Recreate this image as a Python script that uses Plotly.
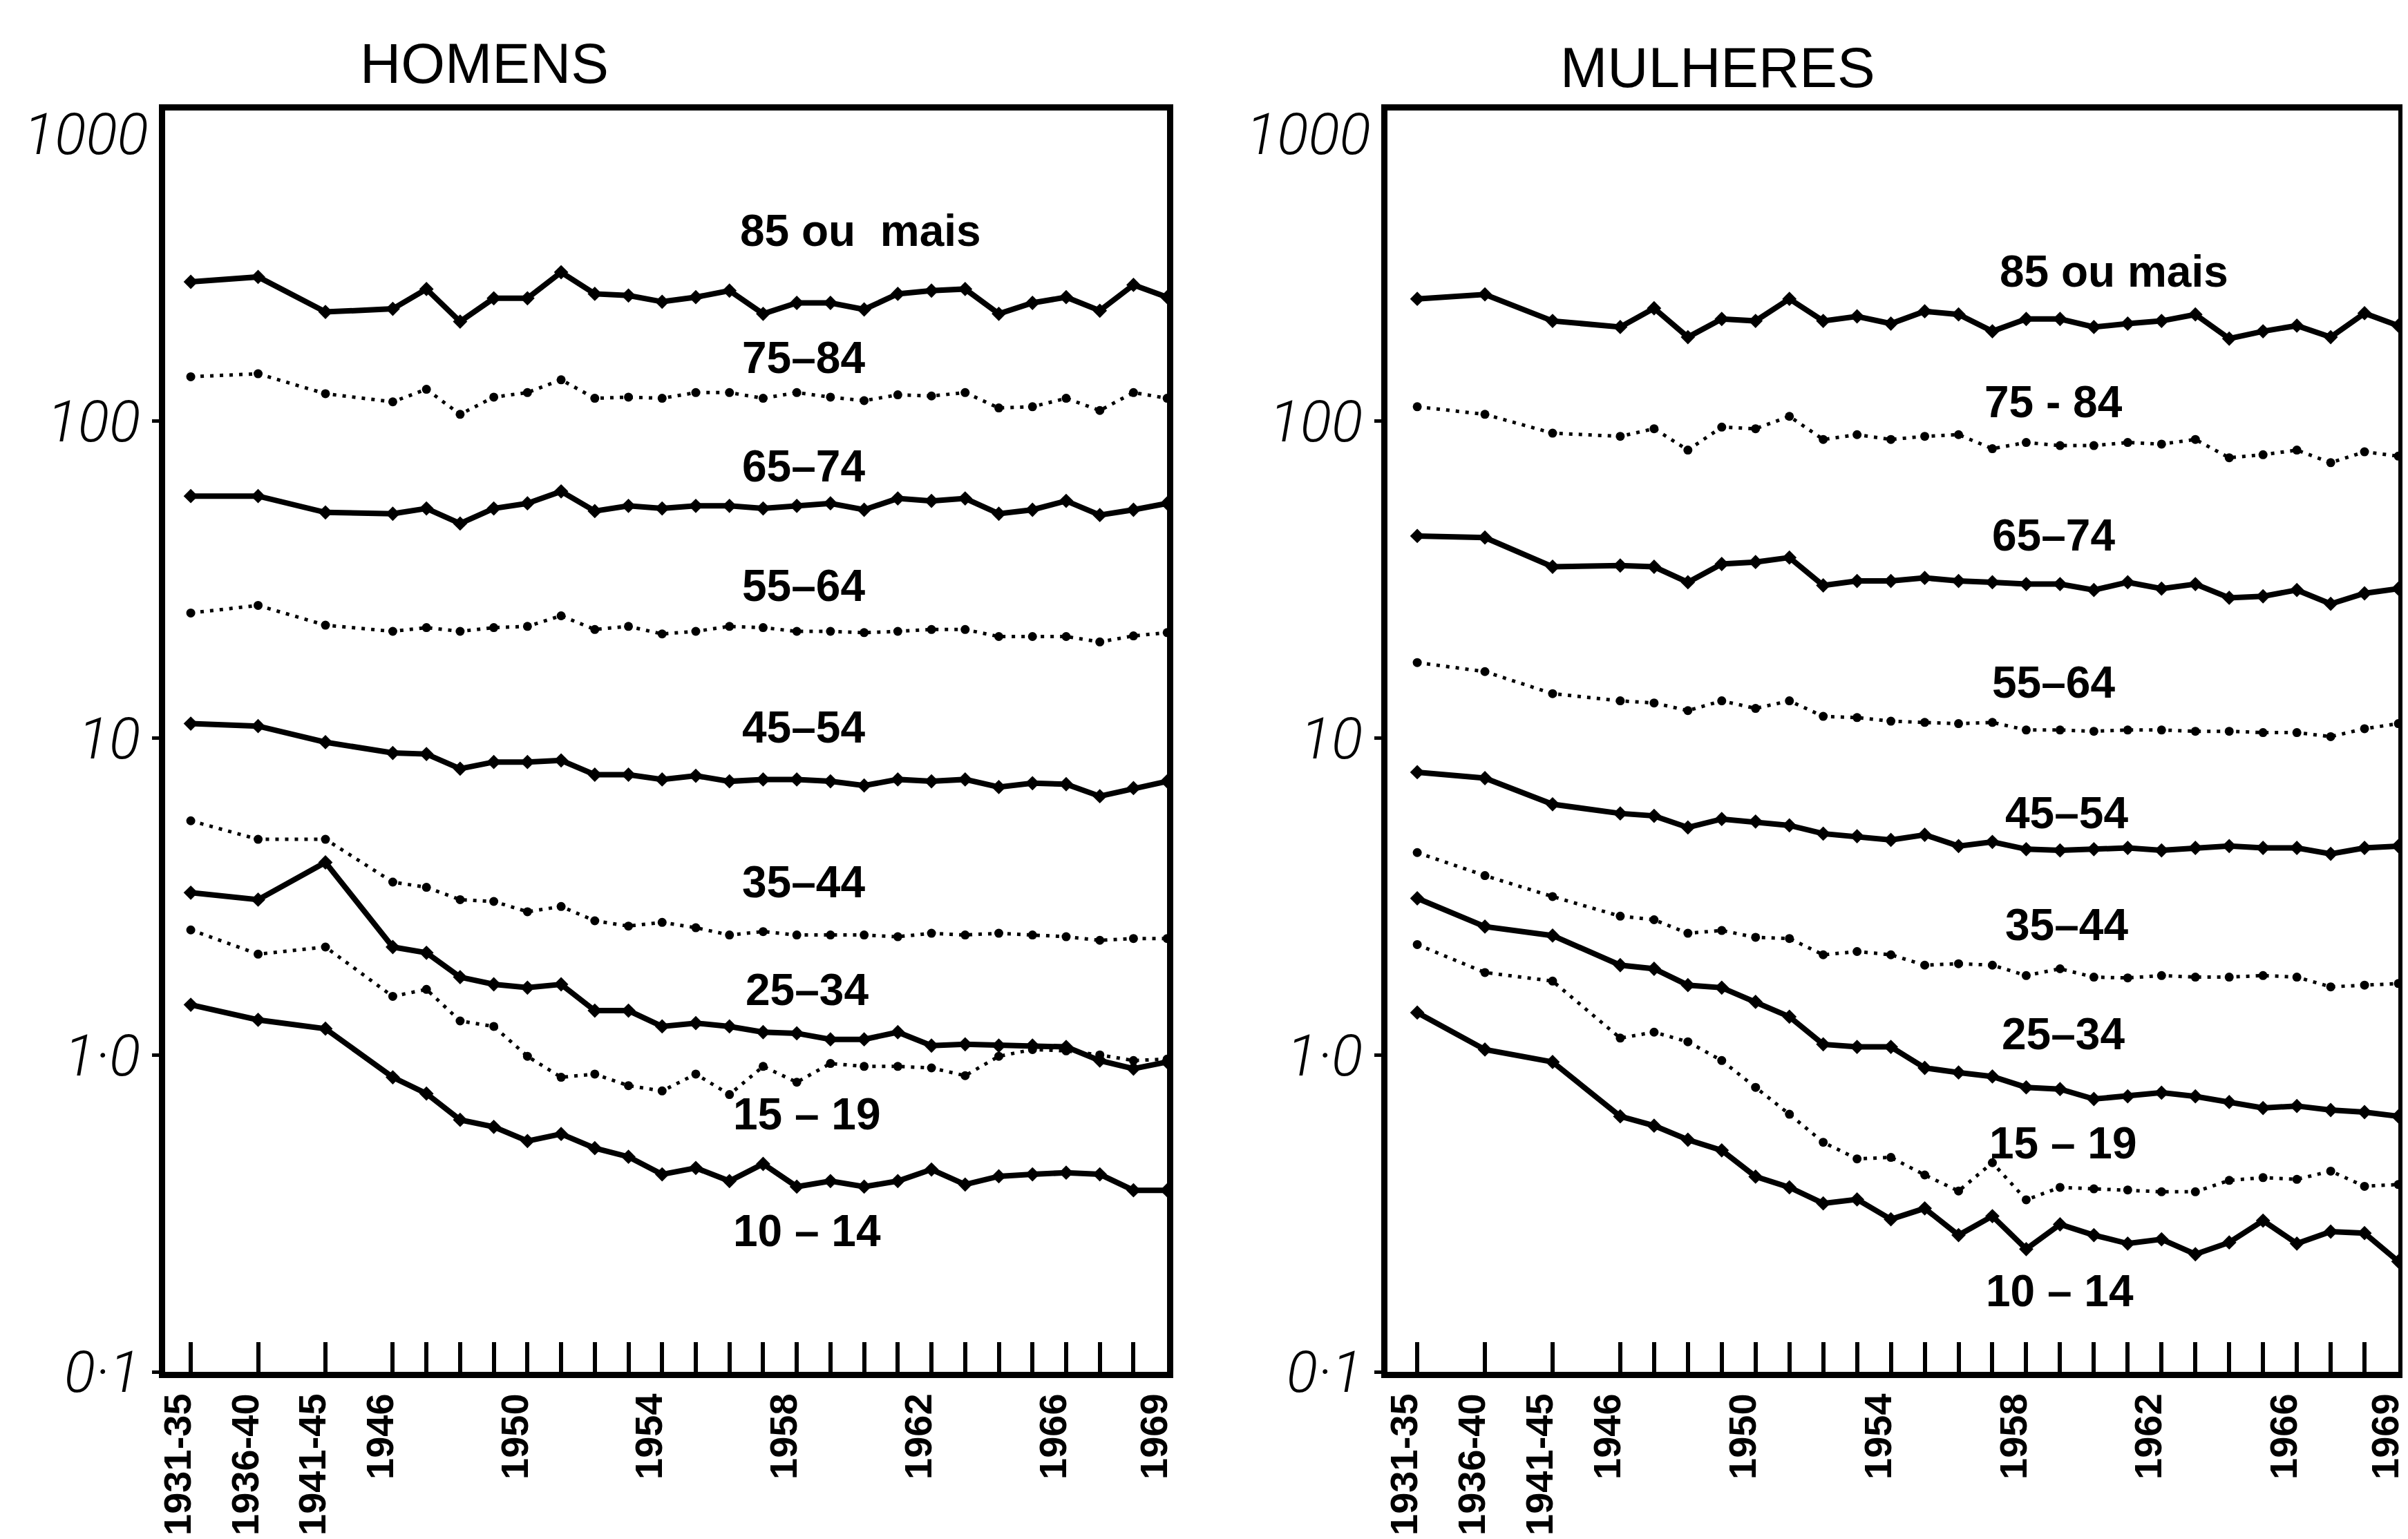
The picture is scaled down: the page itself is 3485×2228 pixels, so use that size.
import plotly.graph_objects as go

# ---- categories / tick labels ----
periods = ["1931-35", "1936-40", "1941-45"]
years = [str(y) for y in range(1946, 1970)]
categories = periods + years
labelled = ["1931-35", "1936-40", "1941-45", "1946", "1950", "1954", "1958", "1962", "1966", "1969"]
# horizontal position of each category on the drawn time scale (5-year periods drawn 2 units apart)
x_pos = [1940, 1942, 1944] + list(range(1946, 1970))

ytick_vals = [0.1, 1, 10, 100]
ytick_text = ["0·1", "1·0", "10", "100"]
top_label = "1000"

# ---- HOMENS ----
h85 = [275, 285, 221, 226, 261, 206, 244, 244, 295, 252, 249, 238, 246, 258, 218, 236, 236, 225, 252, 258, 261, 218, 236, 246, 223, 269, 246]
h75 = [138, 141, 122, 115, 126, 105, 119, 123, 135, 118, 119, 118, 123, 123, 118, 123, 119, 116, 121, 120, 123, 110, 111, 118, 108, 123, 118]
h65 = [58, 58, 51.5, 51, 53, 47.5, 53, 55, 60, 52, 54, 53, 54, 54, 53, 54, 55, 52.5, 57, 56, 57, 51, 52.5, 56, 50.5, 52.5, 55]
h55 = [24.8, 26.2, 22.7, 21.7, 22.3, 21.7, 22.3, 22.5, 24.3, 22, 22.5, 21.3, 21.7, 22.5, 22.3, 21.7, 21.7, 21.5, 21.7, 22, 22, 20.9, 20.9, 20.9, 20.1, 21, 21.5]
h45 = [11.1, 10.9, 9.7, 8.97, 8.9, 8.0, 8.4, 8.4, 8.5, 7.66, 7.66, 7.4, 7.6, 7.3, 7.4, 7.4, 7.3, 7.08, 7.4, 7.3, 7.4, 7.0, 7.2, 7.15, 6.55, 6.95, 7.3]
h35 = [5.48, 4.79, 4.79, 3.51, 3.38, 3.09, 3.05, 2.83, 2.94, 2.65, 2.55, 2.62, 2.52, 2.39, 2.45, 2.39, 2.39, 2.39, 2.36, 2.42, 2.39, 2.42, 2.39, 2.36, 2.30, 2.33, 2.33]
h25 = [3.25, 3.09, 4.05, 2.19, 2.10, 1.76, 1.67, 1.63, 1.67, 1.38, 1.38, 1.23, 1.26, 1.23, 1.18, 1.17, 1.12, 1.12, 1.18, 1.07, 1.08, 1.07, 1.07, 1.06, 0.96, 0.905, 0.95]
h15 = [2.48, 2.08, 2.19, 1.53, 1.61, 1.28, 1.23, 0.99, 0.85, 0.87, 0.80, 0.77, 0.87, 0.75, 0.92, 0.82, 0.94, 0.92, 0.92, 0.91, 0.86, 0.99, 1.04, 1.03, 1.00, 0.96, 0.97]
h10 = [1.44, 1.29, 1.21, 0.85, 0.755, 0.624, 0.593, 0.535, 0.563, 0.508, 0.477, 0.42, 0.44, 0.40, 0.453, 0.384, 0.40, 0.384, 0.40, 0.435, 0.39, 0.414, 0.42, 0.425, 0.42, 0.374, 0.374]

# ---- MULHERES ----
m85 = [243, 251, 207, 198, 227, 184, 210, 207, 243, 207, 214, 203, 222, 217, 192, 210, 210, 198, 203, 207, 217, 182, 192, 200, 184, 219, 200]
m75 = [111, 105, 91.6, 89.5, 94.6, 81, 95.7, 94.6, 103.5, 87.5, 90.6, 87.5, 89.5, 90.6, 81.8, 85.6, 83.7, 83.7, 85.6, 84.6, 87.5, 76.6, 78.3, 81, 73.9, 80, 77.5]
m65 = [43.4, 42.9, 34.7, 35, 34.7, 31, 35.4, 35.9, 37.1, 30.3, 31.3, 31.3, 32, 31.3, 31, 30.6, 30.6, 29.3, 31, 29.6, 30.6, 27.7, 28, 29.3, 26.5, 28.6, 29.6]
m55 = [17.3, 16.2, 13.8, 13.1, 12.9, 12.2, 13.1, 12.4, 13.1, 11.7, 11.6, 11.3, 11.2, 11.1, 11.2, 10.6, 10.6, 10.5, 10.6, 10.6, 10.5, 10.5, 10.4, 10.4, 10.1, 10.7, 11.1]
m45 = [7.8, 7.47, 6.18, 5.78, 5.68, 5.22, 5.55, 5.45, 5.3, 4.99, 4.9, 4.77, 4.95, 4.56, 4.7, 4.46, 4.42, 4.46, 4.5, 4.42, 4.5, 4.56, 4.5, 4.5, 4.31, 4.5, 4.56]
m35 = [4.35, 3.68, 3.16, 2.74, 2.67, 2.42, 2.47, 2.35, 2.33, 2.07, 2.12, 2.07, 1.92, 1.94, 1.92, 1.78, 1.87, 1.76, 1.75, 1.78, 1.76, 1.76, 1.78, 1.76, 1.64, 1.66, 1.68]
m25 = [3.12, 2.54, 2.38, 1.92, 1.87, 1.66, 1.63, 1.47, 1.32, 1.08, 1.06, 1.06, 0.91, 0.88, 0.855, 0.79, 0.78, 0.726, 0.74, 0.76, 0.74, 0.71, 0.68, 0.69, 0.67, 0.66, 0.64]
m15 = [2.23, 1.82, 1.71, 1.13, 1.18, 1.10, 0.96, 0.79, 0.65, 0.53, 0.47, 0.475, 0.418, 0.372, 0.457, 0.349, 0.382, 0.378, 0.375, 0.37, 0.37, 0.402, 0.41, 0.405, 0.43, 0.385, 0.39]
m10 = [1.36, 1.04, 0.95, 0.64, 0.598, 0.54, 0.50, 0.413, 0.382, 0.34, 0.35, 0.303, 0.328, 0.27, 0.31, 0.244, 0.292, 0.27, 0.254, 0.262, 0.235, 0.256, 0.30, 0.254, 0.277, 0.274, 0.223]

homens = [h85, h75, h65, h55, h45, h35, h25, h15, h10]
mulheres = [m85, m75, m65, m55, m45, m35, m25, m15, m10]

# series label texts as printed in each panel
labels_h = ["85 ou  mais", "75–84", "65–74", "55–64", "45–54", "35–44", "25–34", "15 – 19", "10 – 14"]
labels_m = ["85 ou mais", "75 - 84", "65–74", "55–64", "45–54", "35–44", "25–34", "15 – 19", "10 – 14"]
# label anchor positions (x on time scale, y as log10 value)
lab_pos_h = [(1959.9, 2.60), (1958.2, 2.20), (1958.2, 1.857), (1958.2, 1.48), (1958.2, 1.034),
             (1958.2, 0.545), (1958.3, 0.205), (1958.3, -0.187), (1958.3, -0.555)]
lab_pos_m = [(1960.6, 2.473), (1958.8, 2.061), (1958.8, 1.639), (1958.8, 1.175), (1959.2, 0.764),
             (1959.2, 0.410), (1959.1, 0.066), (1959.1, -0.279), (1959.0, -0.745)]

solid = [True, False, True, False, True, False, True, False, True]

fig = go.Figure()

def add_panel(data, xa, ya):
    for vals, is_solid in zip(data, solid):
        if is_solid:
            line = dict(color="black", width=8)
            marker = dict(symbol="diamond", size=16, color="black")
        else:
            line = dict(color="black", width=5, dash="5px,9px")
            marker = dict(symbol="circle", size=13, color="black")
        fig.add_trace(go.Scatter(x=x_pos, y=vals, mode="lines+markers", line=line,
                                 marker=marker, xaxis=xa, yaxis=ya, showlegend=False,
                                 hoverinfo="skip"))

add_panel(homens, "x", "y")
add_panel(mulheres, "x2", "y2")

tick_text = [c if c in labelled else "" for c in categories]

xcommon = dict(
    tickmode="array", tickvals=x_pos, ticktext=tick_text, tickangle=-90,
    ticks="inside", ticklen=43, tickwidth=6, tickcolor="black",
    showline=True, linewidth=9, linecolor="black", mirror=True,
    showgrid=False, zeroline=False, automargin=False,
    tickfont=dict(family="Liberation Sans Narrow, Liberation Sans, Arial", size=56, color="black", weight="bold"),
    ticklabelstandoff=0, ticklabelshift=-18, ticklabeloverflow="allow",
)
ycommon = dict(
    type="log", range=[-1, 2.98], tickmode="array", tickvals=ytick_vals, ticktext=ytick_text,
    ticks="outside", ticklen=10, tickwidth=5, tickcolor="black",
    showline=True, linewidth=9, linecolor="black", mirror=True,
    showgrid=False, zeroline=False, automargin=False,
    tickfont=dict(family="Roboto, Liberation Sans, Arial", size=84, color="black", style="italic", weight=300),
    domain=[0.1122, 0.9318],
)

fig.update_layout(
    width=3485, height=2228,
    margin=dict(l=0, r=0, t=0, b=0),
    paper_bgcolor="white", plot_bgcolor="white",
    xaxis=dict(xcommon, domain=[0.0663, 0.4824], range=[1939.24, 1969.0]),
    yaxis=dict(ycommon, anchor="x"),
    xaxis2=dict(xcommon, domain=[0.5739, 0.9937], range=[1939.12, 1969.0], anchor="y2"),
    yaxis2=dict(ycommon, anchor="x2"),
)

lab_font = dict(family="Liberation Sans, Arial", size=64, color="black", weight="bold")
ann = []
for txt, (px, py) in zip(labels_h, lab_pos_h):
    ann.append(dict(x=px, y=py, xref="x", yref="y", text=txt, showarrow=False,
                    xanchor="center", yanchor="middle", font=lab_font))
for txt, (px, py) in zip(labels_m, lab_pos_m):
    ann.append(dict(x=px, y=py, xref="x2", yref="y2", text=txt, showarrow=False,
                    xanchor="center", yanchor="middle", font=lab_font))
# top decade label (drawn just under the frame top, as in the original)
for xr in ["x domain", "x2 domain"]:
    ann.append(dict(x=0, y=0.9161, xref=xr, yref="paper", text=top_label, showarrow=False,
                    xanchor="right", yanchor="middle", xshift=-22,
                    font=dict(family="Roboto, Liberation Sans, Arial", size=84, color="black",
                              style="italic", weight=300)))
title_font = dict(family="Liberation Sans, Arial", size=82, color="black")
ann.append(dict(x=0.1989, y=0.9623, xref="paper", yref="paper", text="HOMENS", showarrow=False,
                xanchor="center", yanchor="middle", font=title_font))
ann.append(dict(x=0.7110, y=0.9600, xref="paper", yref="paper", text="MULHERES", showarrow=False,
                xanchor="center", yanchor="middle", font=title_font))
fig.update_layout(annotations=ann)

fig.write_html("out.html")
